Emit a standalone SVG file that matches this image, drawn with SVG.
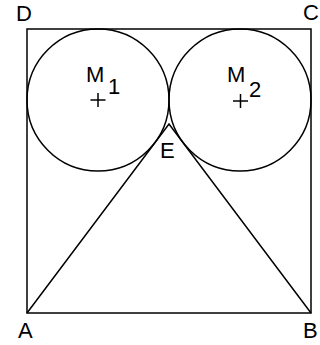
<svg xmlns="http://www.w3.org/2000/svg" width="320" height="345" viewBox="0 0 320 345">
<style>
.s{fill:none;stroke:#000;stroke-width:1.5}
.t{font-family:"Liberation Sans",Arial,sans-serif;font-size:22px;fill:#000}
</style>
<rect width="320" height="345" fill="#fff"/>
<g id="square"><rect class="s" x="27" y="29" width="284" height="284"/></g>
<g id="circle1"><circle class="s" cx="98" cy="100" r="71"/><path class="s" d="M90.5 100H105.5M98 93V107"/></g>
<g id="circle2"><circle class="s" cx="240" cy="100" r="71"/><path class="s" d="M233 101H248M240.5 94V108"/></g>
<g id="connectors"><path class="s" d="M27 313L169 124L311 313"/></g>
<g id="labels">
<text class="t" x="16" y="21">D</text>
<text class="t" x="303" y="20">C</text>
<text class="t" x="18" y="338">A</text>
<text class="t" x="303" y="338">B</text>
<text class="t" x="160" y="158">E</text>
<text class="t" x="86" y="82">M</text>
<text class="t" x="108" y="94">1</text>
<text class="t" x="227" y="82">M</text>
<text class="t" x="249" y="97">2</text>
</g>
</svg>
